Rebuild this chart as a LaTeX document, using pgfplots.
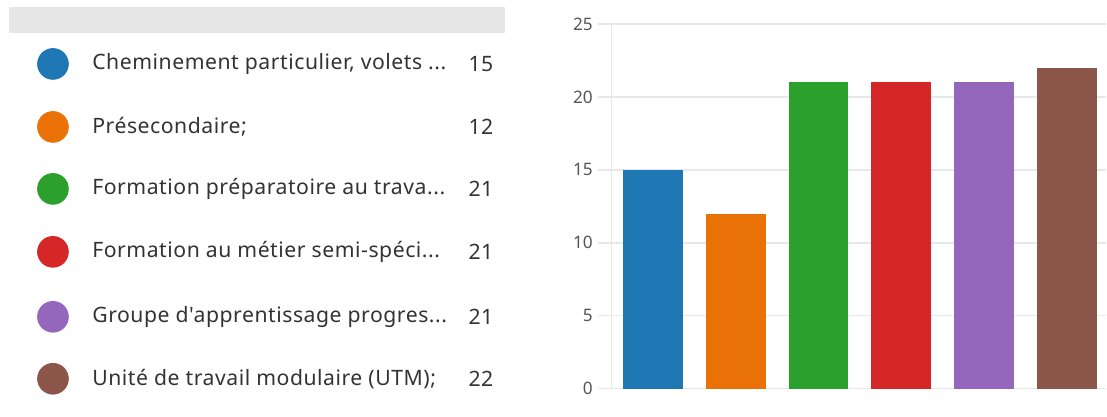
\documentclass[border=0pt]{standalone}
\usepackage{pgfplots}
\pgfplotsset{compat=1.18}
\usepackage{fontspec}
\setmainfont{Noto Sans}
\newfontfamily\legfont{Noto Sans}[LetterSpace=2.5]
\definecolor{cA}{HTML}{1F77B4}
\definecolor{cB}{HTML}{EA7106}
\definecolor{cC}{HTML}{2CA02C}
\definecolor{cD}{HTML}{D62728}
\definecolor{cE}{HTML}{9467BD}
\definecolor{cF}{HTML}{8C564B}
\definecolor{txt}{HTML}{333333}
\definecolor{tick}{HTML}{555555}
\definecolor{gridc}{HTML}{E8E8E8}
\definecolor{headc}{HTML}{E6E6E6}
\begin{document}
\begin{tikzpicture}
% ---------- left: legend list (pixel coordinates, y downward) ----------
\begin{axis}[
  at={(0pt,0pt)}, anchor=south west,
  scale only axis, width=260pt, height=208.5pt,
  xmin=0, xmax=520, ymin=0, ymax=417, y dir=reverse,
  hide axis, clip=false,
]
\fill[headc] (axis cs:9,7) rectangle (axis cs:505,33);
\addplot[only marks, mark=*, mark size=7.7pt, color=cA] coordinates {(53,64)};
\addplot[only marks, mark=*, mark size=7.7pt, color=cB] coordinates {(53,127)};
\addplot[only marks, mark=*, mark size=7.7pt, color=cC] coordinates {(53,189)};
\addplot[only marks, mark=*, mark size=7.7pt, color=cD] coordinates {(53,252)};
\addplot[only marks, mark=*, mark size=7.7pt, color=cE] coordinates {(53,317)};
\addplot[only marks, mark=*, mark size=7.7pt, color=cF] coordinates {(53,379)};
\begin{scope}[every node/.style={font=\legfont\fontsize{10.6}{12}\selectfont, text=txt, inner sep=0pt}]
\node[anchor=west] at (axis cs:92,64) {Cheminement particulier, volets ...};
\node[anchor=west] at (axis cs:92,127) {Présecondaire;};
\node[anchor=west] at (axis cs:92,189) {Formation préparatoire au trava...};
\node[anchor=west] at (axis cs:92,252) {Formation au métier semi-spéci...};
\node[anchor=west] at (axis cs:92,317) {Groupe d'apprentissage progres...};
\node[anchor=west] at (axis cs:92,379) {Unité de travail modulaire (UTM);};
\node[anchor=east] at (axis cs:494,64) {15};
\node[anchor=east] at (axis cs:494,127) {12};
\node[anchor=east] at (axis cs:494,189) {21};
\node[anchor=east] at (axis cs:494,252) {21};
\node[anchor=east] at (axis cs:494,317) {21};
\node[anchor=east] at (axis cs:494,379) {22};
\end{scope}
\end{axis}
% ---------- right: bar chart ----------
\begin{axis}[
  at={(305.75pt,14pt)}, anchor=south west,
  scale only axis, width=247.75pt, height=182.5pt,
  xmin=-0.5, xmax=5.47, ymin=0, ymax=25,
  xtick=\empty, ytick={0,5,...,25},
  axis x line=none, axis y line*=left,
  y axis line style={gridc, line width=0.6pt, -},
  ymajorgrids, grid style={gridc, line width=0.7pt},
  major tick length=6.5pt, tick align=outside,
  y tick style={gridc, line width=0.7pt},
  yticklabel style={font=\fontsize{8.6}{10}\selectfont, text=tick, inner sep=0pt, xshift=-2.5pt},
  /pgf/number format/assume math mode=true,
  clip=false,
]
\addplot[ybar, bar width=30pt, bar shift=0pt, fill=cA, draw=none] coordinates {(0,15)};
\addplot[ybar, bar width=30pt, bar shift=0pt, fill=cB, draw=none] coordinates {(1,12)};
\addplot[ybar, bar width=30pt, bar shift=0pt, fill=cC, draw=none] coordinates {(2,21)};
\addplot[ybar, bar width=30pt, bar shift=0pt, fill=cD, draw=none] coordinates {(3,21)};
\addplot[ybar, bar width=30pt, bar shift=0pt, fill=cE, draw=none] coordinates {(4,21)};
\addplot[ybar, bar width=30pt, bar shift=0pt, fill=cF, draw=none] coordinates {(5,22)};
\end{axis}
\path (0pt,0pt) rectangle (553.5pt,208.5pt);
\end{tikzpicture}
\end{document}
